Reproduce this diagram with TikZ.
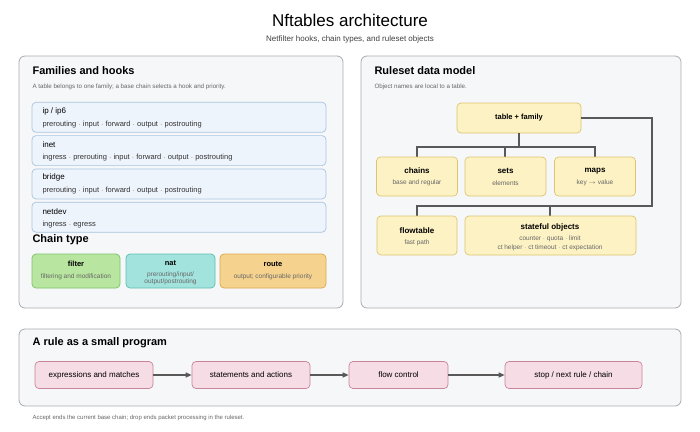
\documentclass[tikz,border=0pt]{standalone}
\usepackage{fontspec}
\setmainfont{Liberation Sans}
\usetikzlibrary{positioning,arrows.meta}
\definecolor{panelbg}{HTML}{F6F7F9}
\definecolor{panelln}{HTML}{A9ABB0}
\definecolor{famfill}{HTML}{EEF4FC}
\definecolor{famline}{HTML}{A8C4E0}
\definecolor{filtfill}{HTML}{B8E6A0}
\definecolor{filtline}{HTML}{7CC268}
\definecolor{natfill}{HTML}{A3E3DD}
\definecolor{natline}{HTML}{5EBDB3}
\definecolor{routefill}{HTML}{F5D38F}
\definecolor{routeline}{HTML}{D9A94D}
\definecolor{objfill}{HTML}{FDF2C4}
\definecolor{objline}{HTML}{DEC46E}
\definecolor{rulefill}{HTML}{F6DCE4}
\definecolor{ruleline}{HTML}{C9849A}
\definecolor{subtext}{HTML}{666666}
\begin{document}
\begin{tikzpicture}[x=1pt,y=-1pt,
  panel/.style={draw=panelln,fill=panelbg,rounded corners=6pt,line width=0.8pt},
  head/.style={anchor=west,font=\bfseries\fontsize{11}{13}\selectfont},
  note/.style={anchor=west,text=subtext,font=\fontsize{6.2}{7}\selectfont},
  fambox/.style={draw=famline,fill=famfill,rounded corners=4pt,line width=0.7pt},
  objbox/.style={draw=objline,fill=objfill,rounded corners=4pt,line width=0.7pt},
  rulebox/.style={draw=ruleline,fill=rulefill,rounded corners=4pt,line width=0.7pt,
    minimum width=118pt,minimum height=27pt,font=\fontsize{8}{9}\selectfont},
  tname/.style={font=\bfseries\fontsize{7.5}{9}\selectfont},
  tsub/.style={text=subtext,font=\fontsize{6.5}{7.5}\selectfont,align=center},
  link/.style={draw=black!65,line width=1.2pt}]
\useasboundingbox (0,0) rectangle (700,431);
\node[font=\fontsize{17}{20}\selectfont] (title) at (350,20) {Nftables architecture};
\node[font=\fontsize{8}{10}\selectfont,text=black!75] (subtitle) at (350,39) {Netfilter hooks, chain types, and ruleset objects};
% left panel
\draw[panel] (19,56) rectangle (343,308);
\node[head] (famhead) at (29,71) {Families and hooks};
\node[note] (famnote) at (29,87) {A table belongs to one family; a base chain selects a hook and priority.};
\foreach \fam/\hooks [count=\i] in {{ip / ip6}/prerouting $\cdot$ input $\cdot$ forward $\cdot$ output $\cdot$ postrouting,
    inet/ingress $\cdot$ prerouting $\cdot$ input $\cdot$ forward $\cdot$ output $\cdot$ postrouting,
    bridge/prerouting $\cdot$ input $\cdot$ forward $\cdot$ output $\cdot$ postrouting,
    netdev/ingress $\cdot$ egress} {
  \draw[fambox] (32,{69+33.3*\i}) rectangle (326,{99+33.3*\i});
  \node[anchor=west,font=\fontsize{8}{9}\selectfont] (fam\i) at (39,{78+33.3*\i}) {\fam};
  \node[anchor=west,font=\fontsize{7.5}{8}\selectfont,text=black!80] (hooks\i) at (39,{91+33.3*\i}) {\hooks};
}
\node[head] (typehead) at (29,240) {Chain type};
\draw[rounded corners=4pt,line width=0.7pt,draw=filtline,fill=filtfill] (32,254) rectangle (120,288);
\node[tname] (filter) at (76,264) {filter};
\node[tsub] (filtersub) at (76,277) {filtering and modification};
\draw[rounded corners=4pt,line width=0.7pt,draw=natline,fill=natfill] (126,254) rectangle (215,288);
\node[tname] (nat) at (170.5,263) {nat};
\node[tsub,font=\fontsize{6.5}{7}\selectfont] (natsub) at (170.5,278) {prerouting/input/\\output/postrouting};
\draw[rounded corners=4pt,line width=0.7pt,draw=routeline,fill=routefill] (220,254) rectangle (326,288);
\node[tname] (route) at (273,264) {route};
\node[tsub] (routesub) at (273,277) {output; configurable priority};
% right panel
\draw[panel] (361,56) rectangle (681,308);
\node[head] (rshead) at (371,71) {Ruleset data model};
\node[note] (rsnote) at (371,87) {Object names are local to a table.};
\node[objbox,minimum width=124pt,minimum height=30pt,tname] (table) at (519,118) {table + family};
\draw[link] (table.south) -- (519,147) (417,157) -- (417,147) -- (595,147) -- (595,157) (505,147) -- (505,157);
\draw[link] (table.east) -- (652,118) -- (652,206) -- (417,206) -- (417,216) (550,206) -- (550,216);
\foreach \nm/\lbl/\sub/\cx in {chains/chains/base and regular/417, sets/sets/elements/505.5, maps/maps/key $\rightarrow$ value/595} {
  \draw[objbox] ({\cx-40.5},157) rectangle ({\cx+40.5},196);
  \node[tname,font=\bfseries\fontsize{8}{9}\selectfont] (\nm) at (\cx,171) {\lbl};
  \node[tsub] (\nm sub) at (\cx,183) {\sub};
}
\draw[objbox] (377,216) rectangle (457,255);
\node[tname,font=\bfseries\fontsize{8}{9}\selectfont] (flowtable) at (417,231) {flowtable};
\node[tsub] (flowsub) at (417,243) {fast path};
\draw[objbox] (465,216) rectangle (636,255);
\node[tname,font=\bfseries\fontsize{8}{9}\selectfont] (stateful) at (550,227) {stateful objects};
\node[tsub,font=\fontsize{6.5}{9}\selectfont] (statesub) at (550,243) {counter $\cdot$ quota $\cdot$ limit\\ct helper $\cdot$ ct timeout $\cdot$ ct expectation};
% bottom panel
\draw[panel] (19,329) rectangle (681,406);
\node[head] (rulehead) at (29,343) {A rule as a small program};
\node[rulebox] (expr) at (94,375) {expressions and matches};
\node[rulebox] (stmt) at (251,375) {statements and actions};
\node[rulebox,minimum width=99pt] (flow) at (398.5,375) {flow control};
\node[rulebox,minimum width=137pt] (stop) at (573.5,375) {stop / next rule / chain};
\foreach \a/\b in {expr/stmt,stmt/flow,flow/stop}
  \draw[link,-{Triangle[length=6pt,width=5pt]}] (\a) -- (\b);
\node[note,font=\fontsize{6}{7}\selectfont] (footer) at (29,418) {Accept ends the current base chain; drop ends packet processing in the ruleset.};
\end{tikzpicture}
\end{document}
